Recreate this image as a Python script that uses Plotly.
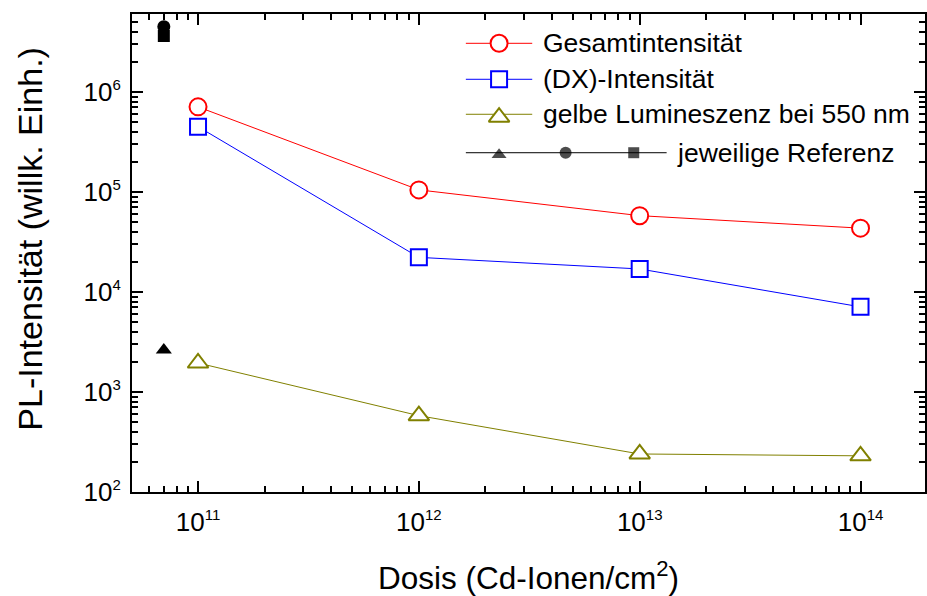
import plotly.graph_objects as go

# ---------------- data ----------------
dose = [1e11, 1e12, 1e13, 1e14]
gesamt = [7.1e5, 1.05e5, 5.8e4, 4.35e4]
dx_int = [4.5e5, 2.22e4, 1.70e4, 7.1e3]
gelb = [1.95e3, 5.8e2, 2.4e2, 2.3e2]

ref_dose = [7e10]
ref_gesamt = [4.5e6]
ref_dx = [3.63e6]
ref_gelb = [2.63e3]

x_ticks = [1e11, 1e12, 1e13, 1e14]
x_exp = ["11", "12", "13", "14"]
y_ticks = [1e2, 1e3, 1e4, 1e5, 1e6]
y_exp = ["2", "3", "4", "5", "6"]

legend_labels = ["Gesamtintensität", "(DX)-Intensität", "gelbe Lumineszenz bei 550 nm", "jeweilige Referenz"]
x_title = "Dosis (Cd-Ionen/cm<sup>2</sup>)"
y_title = "PL-Intensität (willk. Einh.)"

RED = "#ff0000"
BLUE = "#0000ff"
OLIVE = "#808000"
FONT = "Arial, Liberation Sans, sans-serif"

def pow_label(e):
    return "10<sup><span style='font-size:15px'>" + e + "</span></sup>"

fig = go.Figure()

def series(x, y, color, symbol, size):
    fig.add_trace(go.Scatter(
        x=x, y=y, mode="lines+markers",
        line=dict(color=color, width=1),
        marker=dict(symbol=symbol, size=size, color="white",
                    line=dict(color=color, width=2)),
        showlegend=False, cliponaxis=False))

series(dose, gesamt, RED, "circle", 17)
series(dose, dx_int, BLUE, "square", 16)
series(dose, gelb, OLIVE, "triangle-up", 18)

def ref(x, y, symbol, size):
    fig.add_trace(go.Scatter(
        x=x, y=y, mode="markers",
        marker=dict(symbol=symbol, size=size, color="black", line=dict(width=0)),
        showlegend=False, cliponaxis=False))

ref(ref_dose, ref_gelb, "triangle-up", 14)
ref(ref_dose, ref_dx, "square", 12)
ref(ref_dose, ref_gesamt, "circle", 13)

# ---------------- manual legend (layout positions on an overlay axis) ----------------
rows_y = [0.9387, 0.8634, 0.7902, 0.7098]
lx0, lx1, lxm, ltext = 0.4210, 0.5047, 0.4629, 0.5153
row4_x1, row4_text = 0.6742, 0.6852
row4_marks = [0.4629, 0.5468, 0.6327]

leg_styles = [(RED, "circle", 17), (BLUE, "square", 16), (OLIVE, "triangle-up", 18)]
for i, (c, s, sz) in enumerate(leg_styles):
    fig.add_trace(go.Scatter(x=[lx0, lx1], y=[rows_y[i]] * 2, mode="lines",
                             line=dict(color=c, width=1), xaxis="x2", yaxis="y2",
                             showlegend=False, hoverinfo="skip"))
    fig.add_trace(go.Scatter(x=[lxm], y=[rows_y[i] - (0.006 if s == "triangle-up" else 0)], mode="markers",
                             marker=dict(symbol=s, size=sz, color="white", line=dict(color=c, width=2)),
                             xaxis="x2", yaxis="y2", showlegend=False, hoverinfo="skip"))
fig.add_trace(go.Scatter(x=[lx0, row4_x1], y=[rows_y[3]] * 2, mode="lines",
                         line=dict(color="black", width=1), xaxis="x2", yaxis="y2",
                         showlegend=False, hoverinfo="skip"))
fig.add_trace(go.Scatter(x=row4_marks, y=[rows_y[3] - 0.004, rows_y[3], rows_y[3]], mode="markers",
                         marker=dict(symbol=["triangle-up", "circle", "square"], size=[13, 12, 11],
                                     color="black", line=dict(width=0)),
                         xaxis="x2", yaxis="y2", showlegend=False, hoverinfo="skip"))

for i, lab in enumerate(legend_labels):
    fig.add_annotation(x=ltext if i < 3 else row4_text, y=rows_y[i], xref="x2", yref="y2",
                       text=lab, showarrow=False, xanchor="left", yanchor="middle",
                       font=dict(size=26.5, color="black", family=FONT))

# y-axis title as annotation (positioned slightly above the plot centre as in the reference)
fig.add_annotation(x=-0.128, y=0.531, xref="paper", yref="paper", text=y_title,
                   textangle=-90, showarrow=False, xanchor="center", yanchor="middle",
                   font=dict(size=34, color="black", family=FONT))

x_minor = [m * 10 ** e for e in range(10, 15) for m in range(2, 10)]
y_minor = [m * 10 ** e for e in range(2, 7) for m in range(2, 10)]

axis_common = dict(showline=True, linecolor="black", linewidth=2, mirror="allticks",
                   ticks="inside", ticklen=11, tickwidth=2, tickcolor="black",
                   showgrid=False, zeroline=False,
                   tickfont=dict(size=26, color="black", family=FONT))

fig.update_layout(
    width=927, height=596,
    margin=dict(l=132, r=0, t=14, b=104),
    paper_bgcolor="white", plot_bgcolor="white",
    font=dict(family=FONT, color="black"),
    xaxis=dict(type="log", range=[10.701, 14.292], tickmode="array",
               tickvals=x_ticks, ticktext=[pow_label(e) for e in x_exp],
               minor=dict(tickmode="array", tickvals=x_minor, ticks="inside", ticklen=6,
                          tickwidth=2, tickcolor="black", showgrid=False),
               title=dict(text=x_title, font=dict(size=31.5, family=FONT), standoff=32),
               ticklabelstandoff=6,
               **axis_common),
    yaxis=dict(type="log", range=[2, 6.78], tickmode="array",
               tickvals=y_ticks, ticktext=[pow_label(e) for e in y_exp],
               minor=dict(tickmode="array", tickvals=y_minor, ticks="inside", ticklen=6,
                          tickwidth=2, tickcolor="black", showgrid=False),
               ticklabelstandoff=4,
               **axis_common),
    xaxis2=dict(overlaying="x", range=[0, 1], visible=False, anchor="y2"),
    yaxis2=dict(overlaying="y", range=[0, 1], visible=False, anchor="x2"),
)

fig.write_html("out.html")
